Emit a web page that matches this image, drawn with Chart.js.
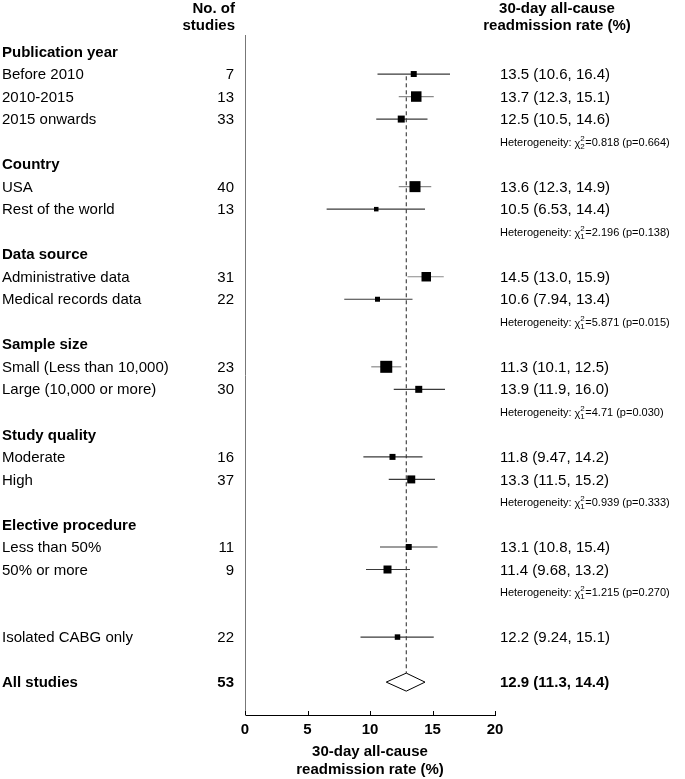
<!DOCTYPE html>
<html><head><meta charset="utf-8">
<script src="https://cdn.jsdelivr.net/npm/chart.js@4.4.1/dist/chart.umd.min.js"></script>
<style>html,body{margin:0;padding:0;background:#fff}#wrap{width:685px;height:779px}</style>
</head><body><div id="wrap"><canvas id="c" width="685" height="779"></canvas></div>
<script>
// ---------- data ----------
const groupHeaders = ['Publication year','Country','Data source','Sample size','Study quality','Elective procedure'];
const headerRows   = [0,5,9,13,17,21];

const subgroups = ['Before 2010','2010-2015','2015 onwards','USA','Rest of the world',
  'Administrative data','Medical records data','Small (Less than 10,000)','Large (10,000 or more)',
  'Moderate','High','Less than 50%','50% or more','Isolated CABG only'];
const subgroupRows = [1,2,3,6,7,10,11,14,15,18,19,22,23,26];
const studies   = [7,13,33,40,13,31,22,23,30,16,37,11,9,22];
const estimates = [13.5,13.7,12.5,13.6,10.5,14.5,10.6,11.3,13.9,11.8,13.3,13.1,11.4,12.2];
const lower     = [10.6,12.3,10.5,12.3,6.53,13.0,7.94,10.1,11.9,9.47,11.5,10.8,9.68,9.24];
const upper     = [16.4,15.1,14.6,14.9,14.4,15.9,13.4,12.5,16.0,14.2,15.2,15.4,13.2,15.1];
const estText   = ['13.5 (10.6, 16.4)','13.7 (12.3, 15.1)','12.5 (10.5, 14.6)','13.6 (12.3, 14.9)',
  '10.5 (6.53, 14.4)','14.5 (13.0, 15.9)','10.6 (7.94, 13.4)','11.3 (10.1, 12.5)','13.9 (11.9, 16.0)',
  '11.8 (9.47, 14.2)','13.3 (11.5, 15.2)','13.1 (10.8, 15.4)','11.4 (9.68, 13.2)','12.2 (9.24, 15.1)'];
// relative weight of each subgroup estimate (drives box size)
const boxWeights = [6,10.5,7,11,4.5,9.5,5,12,7,6,8,6,8,5.5];

const hetRows = [4,8,12,16,20,24];
const hetChi  = ['0.818','2.196','5.871','4.71','0.939','1.215'];
const hetDf   = [2,1,1,1,1,1];
const hetP    = ['0.664','0.138','0.015','0.030','0.333','0.270'];

const pooledLabel = 'All studies';
const pooledRow = 28;
const pooledN = 53;
const pooled = 12.9, pooledLo = 11.3, pooledHi = 14.4;
const pooledText = '12.9 (11.3, 14.4)';

const xTicks = [0,5,10,15,20];
const xTitle = ['30-day all-cause','readmission rate (%)'];
const colHeadLeft = ['No. of','studies'];
const colHeadRight = ['30-day all-cause','readmission rate (%)'];

// ---------- chart ----------
const FONT = '"Liberation Sans", Arial, Helvetica, sans-serif';
const datasets = [];
datasets.push({
  label:'estimates', order:0,
  data: estimates.map((v,i)=>({x:v,y:subgroupRows[i]})),
  pointStyle:'rect', pointRadius: boxWeights.map(w=>w/Math.SQRT2),
  pointBackgroundColor:'#000', pointBorderWidth:0, showLine:false
});
estimates.forEach((v,i)=>{
  datasets.push({
    label:'ci'+i, order:2, showLine:true, pointRadius:0,
    borderColor: boxWeights[i] >= 9 ? '#8a8a8a' : '#3a3a3a', borderWidth:1.2,
    data:[{x:lower[i],y:subgroupRows[i]},{x:upper[i],y:subgroupRows[i]}]
  });
});
const dH = 0.4;
datasets.push({
  label:'pooled', order:1, showLine:true, pointRadius:0, borderColor:'#000', borderWidth:1,
  fill:false, tension:0,
  data:[{x:pooledLo,y:pooledRow},{x:pooled,y:pooledRow-dH},{x:pooledHi,y:pooledRow},{x:pooled,y:pooledRow+dH},{x:pooledLo,y:pooledRow}]
});
datasets.push({
  label:'ref', order:3, showLine:true, pointRadius:0, borderColor:'#222', borderWidth:1,
  borderDash:[4,3],
  data:[{x:pooled,y:1.1},{x:pooled,y:pooledRow-dH}]
});

const textPlugin = {
  id:'forestText',
  afterDraw(chart){
    const ctx = chart.ctx, ys = chart.scales.y, xs = chart.scales.x, ca = chart.chartArea;
    const off = 1;
    ctx.save();
    ctx.fillStyle = '#000';
    // inward tick marks
    ctx.strokeStyle = '#000'; ctx.lineWidth = 1;
    xTicks.forEach(t=>{
      const px = Math.round(xs.getPixelForValue(t)) + 0.5;
      ctx.beginPath(); ctx.moveTo(px, ca.bottom); ctx.lineTo(px, ca.bottom - 4); ctx.stroke();
    });
    // column headers
    ctx.font = 'bold 15px ' + FONT; ctx.textBaseline = 'alphabetic';
    ctx.textAlign = 'right';
    ctx.fillText(colHeadLeft[0], 235, 13);
    ctx.fillText(colHeadLeft[1], 235, 30);
    ctx.textAlign = 'center';
    ctx.fillText(colHeadRight[0], 557, 13);
    ctx.fillText(colHeadRight[1], 557, 30);
    ctx.textBaseline = 'middle';
    // group headers
    ctx.textAlign = 'left';
    groupHeaders.forEach((g,i)=>{ ctx.fillText(g, 2, ys.getPixelForValue(headerRows[i]) + off); });
    // subgroups
    ctx.font = '15px ' + FONT;
    subgroups.forEach((s,i)=>{
      const py = ys.getPixelForValue(subgroupRows[i]) + off;
      ctx.textAlign = 'left'; ctx.fillText(s, 2, py);
      ctx.textAlign = 'right'; ctx.fillText(String(studies[i]), 234, py);
      ctx.textAlign = 'left'; ctx.fillText(estText[i], 500, py);
    });
    // pooled
    ctx.font = 'bold 15px ' + FONT;
    const pp = ys.getPixelForValue(pooledRow) + off;
    ctx.textAlign = 'left'; ctx.fillText(pooledLabel, 2, pp);
    ctx.textAlign = 'right'; ctx.fillText(String(pooledN), 234, pp);
    ctx.textAlign = 'left'; ctx.fillText(pooledText, 500, pp);
    // heterogeneity
    hetRows.forEach((r,i)=>{
      let x = 500; const y = ys.getPixelForValue(r) + off;
      ctx.font = '11px ' + FONT; ctx.textAlign='left';
      const t = 'Heterogeneity: ';
      ctx.fillText(t, x, y); x += ctx.measureText(t).width;
      ctx.fillText('\u03C7', x, y + 1); x += ctx.measureText('\u03C7').width;
      ctx.font = '8px ' + FONT;
      ctx.fillText('2', x, y - 4); ctx.fillText(String(hetDf[i]), x, y + 4);
      x += ctx.measureText('2').width + 0.5;
      ctx.font = '11px ' + FONT;
      ctx.fillText('=' + hetChi[i] + ' (p=' + hetP[i] + ')', x, y);
    });
    ctx.restore();
  }
};

new Chart(document.getElementById('c'), {
  type:'scatter',
  data:{datasets},
  options:{
    responsive:false, animation:false, devicePixelRatio:1,
    layout:{padding:{left:245, right:190, top:35, bottom:0}},
    plugins:{legend:{display:false}, tooltip:{enabled:false}},
    scales:{
      x:{
        type:'linear', min:0, max:20,
        afterBuildTicks(s){ s.ticks = xTicks.map(v=>({value:v})); },
        afterFit(s){ s.height = 64; },
        grid:{display:false, drawTicks:false},
        border:{display:true, color:'#000', width:1},
        ticks:{color:'#000', padding:6, font:{family:FONT, size:15, weight:'bold'}, maxRotation:0},
        title:{display:true, text:xTitle, color:'#000', padding:{top:0,bottom:0},
               font:{family:FONT, size:15, weight:'bold', lineHeight:1.2}}
      },
      y:{
        type:'linear', reverse:true, min:-0.733, max:29.46,
        afterFit(s){ s.width = 0; },
        grid:{display:false, drawTicks:false},
        border:{display:true, color:'#777', width:1},
        ticks:{display:false}
      }
    }
  },
  plugins:[textPlugin]
});
</script></body></html>
